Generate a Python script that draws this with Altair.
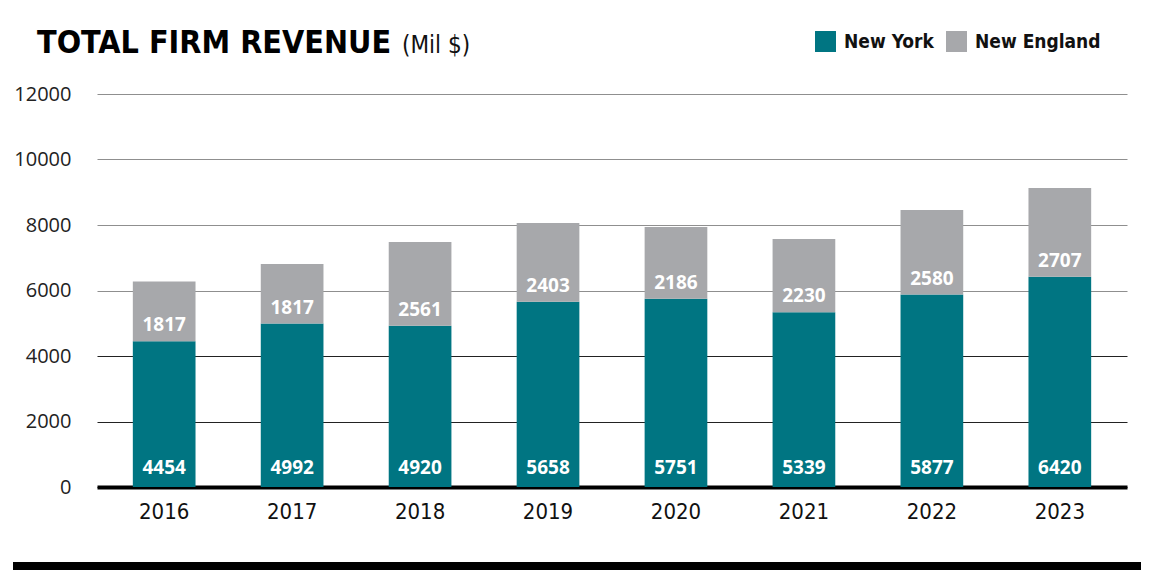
import altair as alt
import pandas as pd

years = ["2016", "2017", "2018", "2019", "2020", "2021", "2022", "2023"]
new_york = [4454, 4992, 4920, 5658, 5751, 5339, 5877, 6420]
new_england = [1817, 1817, 2561, 2403, 2186, 2230, 2580, 2707]
series = ["New York", "New England"]
colors = ["#007582", "#A7A8AB"]
y_ticks = [0, 2000, 4000, 6000, 8000, 10000, 12000]

rows = []
for y, ny, ne in zip(years, new_york, new_england):
    rows.append({"year": y, "region": "New York", "value": ny, "order": 0, "base": 0})
    rows.append({"year": y, "region": "New England", "value": ne, "order": 1, "base": ny})
df = pd.DataFrame(rows)

COND = "DejaVu Sans Condensed, sans-serif"

x_enc = alt.X("year:N", sort=years,
              scale=alt.Scale(paddingInner=0.51, paddingOuter=0.28),
              axis=alt.Axis(title=None, labelAngle=0, labelFont=COND, labelFontSize=22,
                            labelColor="#111", labelPadding=14, ticks=False,
                            domainColor="#000", domainWidth=4, grid=False))

base = alt.Chart(df)

bars = base.mark_bar().encode(
    x=x_enc,
    y=alt.Y("value:Q", stack="zero",
            scale=alt.Scale(domain=[0, 12000], nice=False),
            axis=alt.Axis(title=None, values=y_ticks, format="d", labelFont="Open Sans",
                          labelFontSize=20, labelColor="#222", labelPadding=26, ticks=False,
                          domain=False, grid=True, gridWidth=1.2,
                          gridColor=alt.expr("datum.value >= 6000 ? '#8f8f8f' : '#222222'"))),
    color=alt.Color("region:N", sort=series,
                    scale=alt.Scale(domain=series, range=colors),
                    legend=alt.Legend(title=None, orient="none", legendX=718, legendY=-63,
                                      direction="horizontal", symbolType="square",
                                      symbolSize=440, symbolStrokeWidth=0, symbolOpacity=1,
                                      labelFont=COND, labelFontSize=19, labelFontWeight="bold",
                                      labelColor="#111", columnPadding=12, labelOffset=8)),
    order=alt.Order("order:Q"),
)

ny_labels = alt.Chart(df[df.region == "New York"]).mark_text(
    font="Noto Sans", fontSize=19, fontWeight="bold", color="white", baseline="middle", dy=-19
).encode(x=alt.X("year:N", sort=years), y=alt.datum(0), text="value:Q")

ne_labels = alt.Chart(df[df.region == "New England"]).mark_text(
    font="Noto Sans", fontSize=19, fontWeight="bold", color="white", baseline="middle", dy=-16
).encode(x=alt.X("year:N", sort=years), y="base:Q", text="value:Q")

title_df = pd.DataFrame({"t": ["TOTAL FIRM REVENUE"]})
title1 = alt.Chart(title_df).mark_text(
    font=COND, fontSize=32, fontWeight="bold", color="#000", align="left", baseline="alphabetic"
).encode(x=alt.value(-60), y=alt.value(-41), text="t:N")

sub_df = pd.DataFrame({"t": ["(Mil $)"]})
title2 = alt.Chart(sub_df).mark_text(
    font=COND, fontSize=24, color="#111", align="left", baseline="alphabetic"
).encode(x=alt.value(305), y=alt.value(-41), text="t:N")

bottom = alt.Chart(pd.DataFrame({"a": [0]})).mark_rule(color="#000", strokeWidth=8).encode(
    x=alt.value(-84), x2=alt.value(1045), y=alt.value(472)
)

chart = alt.layer(bars, ny_labels, ne_labels, title1, title2, bottom).properties(
    width=1030, height=393,
    padding={"left": 89, "top": 86, "right": 14, "bottom": 85},
    autosize=alt.AutoSizeParams(type="none"),
    background="white",
).configure_view(strokeWidth=0, stroke=None)

chart.save("out.html", embed_options={"renderer": "svg", "actions": False})
